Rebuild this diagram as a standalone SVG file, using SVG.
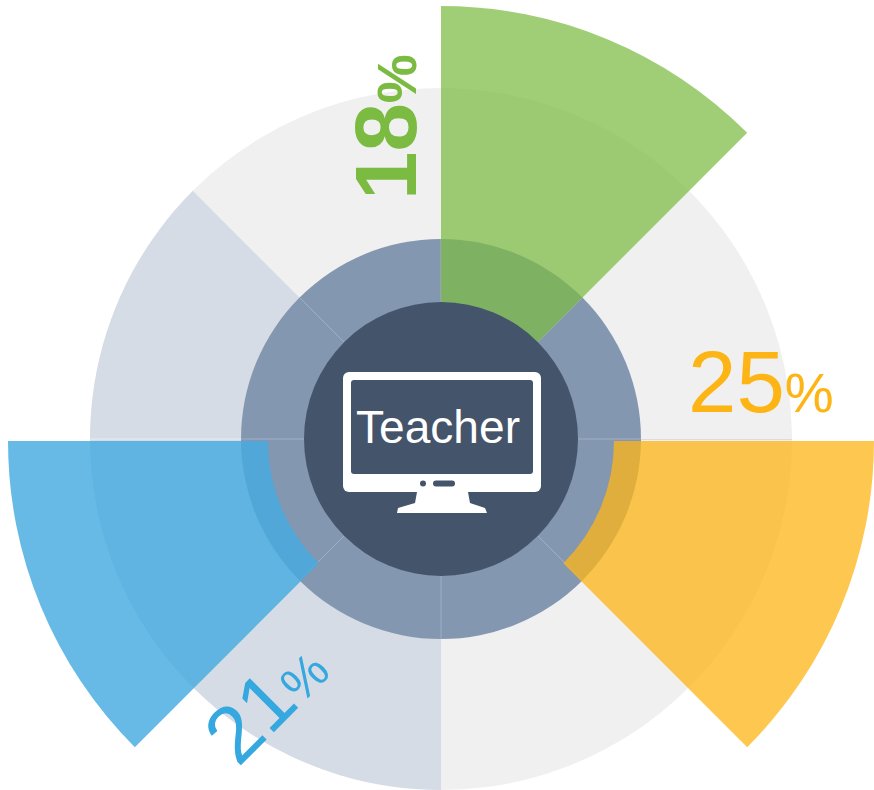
<svg xmlns="http://www.w3.org/2000/svg" width="874" height="790" viewBox="0 0 874 790">
  <style>
    .sep { stroke: #a1aec3; stroke-width: 1; fill: none; }
    .lbl { font-family: "Liberation Sans", Arial, sans-serif; }
    .dark { fill: #44546a; }
  </style>
  <rect x="0" y="0" width="874" height="790" fill="#ffffff"/>

  <g id="outer-ring">
    <path d="M441,439 L192.8,190.8 A351,351 0 1 1 441,790 Z" fill="#f0f0f0"/>
    <path d="M441,439 L441,790 A351,351 0 0 1 192.8,190.8 Z" fill="#d6dce5"/>
    <line x1="641" y1="439.5" x2="792" y2="439.5" stroke="#dcdcdc" stroke-width="1"/>
    <line x1="90" y1="439" x2="241" y2="439" stroke="#e9ecf1" stroke-width="1"/>
  </g>

  <g id="inner-ring">
    <circle cx="441" cy="439" r="200" fill="#8497b0"/>
    <line class="sep" x1="578" y1="439" x2="641" y2="439"/>
    <line class="sep" x1="537.9" y1="535.9" x2="582.4" y2="580.4"/>
    <line class="sep" x1="441" y1="576" x2="441" y2="639"/>
    <line class="sep" x1="344.1" y1="535.9" x2="299.6" y2="580.4"/>
    <line class="sep" x1="304" y1="439" x2="241" y2="439"/>
    <line class="sep" x1="344.1" y1="342.1" x2="299.6" y2="297.6"/>
    <line class="sep" x1="441" y1="302" x2="441" y2="239"/>
    <line class="sep" x1="537.9" y1="342.1" x2="582.4" y2="297.6"/>
  </g>

  <g id="wedge-green">
    <path d="M441,439 L441,6 A433,433 0 0 1 747.2,132.8 Z" fill="#7cbb42" fill-opacity="0.72"/>
  </g>
  <g id="wedge-yellow">
    <path d="M614,441 L874,441 A433,433 0 0 1 747.2,747.2 L563.3,563.3 A173,173 0 0 0 614,441 Z" fill="#fdb515" fill-opacity="0.75"/>
  </g>
  <g id="wedge-blue">
    <path d="M268,441 L8,441 A433,433 0 0 0 134.8,747.2 L318.7,563.3 A173,173 0 0 1 268,441 Z" fill="#45abe0" fill-opacity="0.82"/>
  </g>

  <g id="center-teacher">
    <circle cx="441" cy="439" r="137" class="dark"/>
    <rect x="343" y="372" width="198" height="120" rx="6" fill="#ffffff"/>
    <rect x="351" y="380" width="182" height="94" rx="3" class="dark"/>
    <circle cx="423" cy="483.5" r="3" class="dark"/>
    <rect x="433" y="480.5" width="22" height="6" rx="3" class="dark"/>
    <polygon points="417,492 468,492 470,503 485,508 487,513 397,513 398,508 415,503" fill="#ffffff"/>
    <text class="lbl" x="356" y="443" font-size="47" fill="#ffffff" textLength="164" lengthAdjust="spacingAndGlyphs">Teacher</text>
  </g>

  <g id="labels">
    <text class="lbl" transform="translate(416,200) rotate(-90)" fill="#7cbb42" font-weight="bold"><tspan font-size="87">18</tspan><tspan font-size="55">%</tspan></text>
    <text class="lbl" x="688" y="412" fill="#fdb515"><tspan font-size="87">25</tspan><tspan font-size="55">%</tspan></text>
    <text class="lbl" transform="translate(238,768) rotate(-45)" fill="#35a8e0"><tspan font-size="80">21</tspan><tspan font-size="50">%</tspan></text>
  </g>
</svg>
